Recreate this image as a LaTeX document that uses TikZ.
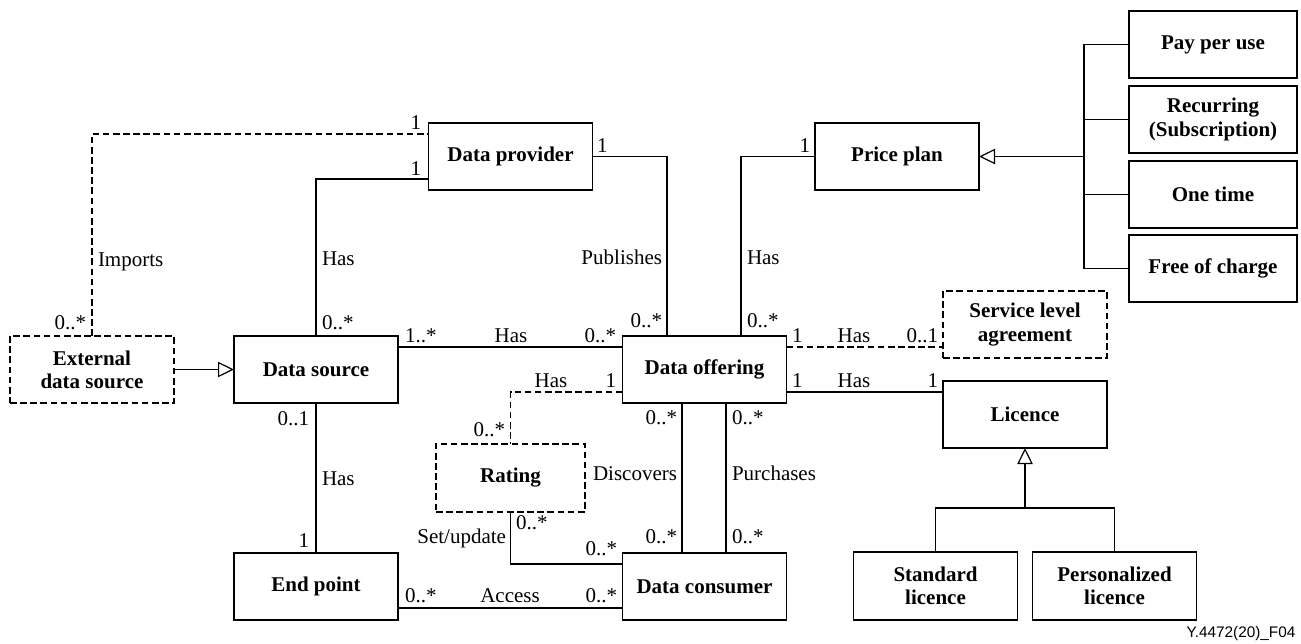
\documentclass[tikz,border=0pt]{standalone}
\usepackage{fontspec}
\setmainfont{Liberation Serif}
\newfontfamily\figsans{Liberation Sans}
\usetikzlibrary{arrows.meta}
\tikzset{
  every picture/.style={line width=0.9pt},
  box/.style={draw, rectangle, inner sep=0pt, outer sep=0pt, minimum width=123pt, minimum height=50.25pt,
     align=center, font=\fontsize{15.75}{17.5}\selectfont\bfseries},
  wbox/.style={box, minimum width=126pt},
  dbox/.style={box, dash pattern=on 5pt off 2.6pt},
  dline/.style={dash pattern=on 5pt off 2.6pt},
  gen/.style={-{Triangle[open, length=12pt, width=11.5pt]}},
  lbl/.style={inner sep=0pt, outer sep=0pt, font=\fontsize{15.75}{17.5}\selectfont},
}
\begin{document}
\begin{tikzpicture}[x=0.75pt,y=-0.75pt]
\useasboundingbox (0,0) rectangle (1301,643);

% boxes
\node[dbox] (ext) at (92,369.5) {External\\data source};
\node[box] (ds) at (316,369.5) {Data source};
\node[box] (dp) at (510.5,156.5) {Data provider};
\node[box] (doff) at (704.5,369.5) {Data offering};
\node[box] (pp) at (897,156.5) {Price plan};
\node[wbox] (pay) at (1213,44.5) {Pay per use};
\node[wbox] (rec) at (1213,119.5) {Recurring\\(Subscription)};
\node[wbox] (one) at (1213,194.5) {One time};
\node[wbox] (free) at (1213,268.5) {Free of charge};
\node[dbox] (sla) at (1025,324.5) {Service level\\agreement};
\node[box] (lic) at (1025,414.5) {Licence};
\node[box, minimum height=51pt] (std) at (935.5,586) {Standard\\licence};
\node[box, minimum height=51pt] (pers) at (1114.5,586) {Personalized\\licence};
\node[dbox, minimum width=111.75pt, minimum height=51pt] (rating) at (510.5,478) {Rating};
\node[box] (ep) at (316,586.5) {End point};
\node[box] (dc) at (704.5,586.5) {Data consumer};

% junction coordinates
\coordinate (pj) at (1084,156.5);
\coordinate (lj) at (1025,508);

% connectors
\draw[dline] (ext.north) |- (dp.west |- 0,134);
\draw (ds.north) |- (dp.west |- 0,179);
\draw (ds.east |- 0,347) -- (doff.west |- 0,347);
\draw[gen] (ext.east) -- (ds.west);
\draw (ds.south) -- (ep.north);
\draw (dp.east) -| (667,0 |- doff.north);
\draw (741,0 |- doff.north) |- (pp.west);
\draw[dline] (doff.east |- 0,347) -- (sla.west |- 0,347);
\draw (doff.east |- 0,392) -- (lic.west |- 0,392);
\draw[dline] (doff.west |- 0,392) -| (rating.north);
\draw (682,0 |- doff.south) -- (682,0 |- dc.north);
\draw (726,0 |- doff.south) -- (726,0 |- dc.north);
\draw (rating.south) |- (dc.west |- 0,564);
\draw (ep.east |- 0,608) -- (dc.west |- 0,608);

% price plan generalization
\draw[gen] (pj) -- (pp.east);
\draw (pay.west) -- (pay.west -| pj) -- (free.west -| pj) -- (free.west);
\draw (rec.west) -- (rec.west -| pj);
\draw (one.west) -- (one.west -| pj);

% licence generalization
\draw (std.north) |- (lj) -| (pers.north);
\draw[gen] (lj) -- (lic.south);

% labels
\node[lbl, anchor=base east] (l1) at (421,129) {1};
\node[lbl, anchor=base east] (l2) at (421,175) {1};
\node[lbl, anchor=base west] (l3) at (98,266) {Imports};
\node[lbl, anchor=base west] (l4) at (322,265) {Has};
\node[lbl, anchor=base east] (l5) at (86,329) {0..*};
\node[lbl, anchor=base west] (l6) at (322,329) {0..*};
\node[lbl, anchor=base west] (l7) at (405,342) {1..*};
\node[lbl, anchor=base] (l8) at (511,342) {Has};
\node[lbl, anchor=base east] (l9) at (616,342) {0..*};
\node[lbl, anchor=base west] (l10) at (597,152) {1};
\node[lbl, anchor=base east] (l11) at (662,264) {Publishes};
\node[lbl, anchor=base east] (l12) at (662,327) {0..*};
\node[lbl, anchor=base west] (l13) at (747,264) {Has};
\node[lbl, anchor=base east] (l14) at (810,152) {1};
\node[lbl, anchor=base west] (l15) at (747,327) {0..*};
\node[lbl, anchor=base west] (l16) at (792,342) {1};
\node[lbl, anchor=base] (l17) at (854,342) {Has};
\node[lbl, anchor=base east] (l18) at (938,342) {0..1};
\node[lbl, anchor=base west] (l19) at (792,387) {1};
\node[lbl, anchor=base] (l20) at (854,387) {Has};
\node[lbl, anchor=base east] (l21) at (938,387) {1};
\node[lbl, anchor=base] (l22) at (551,387) {Has};
\node[lbl, anchor=base east] (l23) at (616,387) {1};
\node[lbl, anchor=base east] (l24) at (505,436) {0..*};
\node[lbl, anchor=base east] (l25) at (677,424) {0..*};
\node[lbl, anchor=base west] (l26) at (732,424) {0..*};
\node[lbl, anchor=base east] (l27) at (677,480) {Discovers};
\node[lbl, anchor=base west] (l28) at (732,480) {Purchases};
\node[lbl, anchor=base east] (l29) at (677,543) {0..*};
\node[lbl, anchor=base west] (l30) at (732,543) {0..*};
\node[lbl, anchor=base west] (l31) at (516,529) {0..*};
\node[lbl, anchor=base east] (l32) at (506,543) {Set/update};
\node[lbl, anchor=base east] (l33) at (617,555) {0..*};
\node[lbl, anchor=base west] (l34) at (405,602) {0..*};
\node[lbl, anchor=base] (l35) at (510,602) {Access};
\node[lbl, anchor=base east] (l36) at (617,602) {0..*};
\node[lbl, anchor=base east] (l37) at (309,425) {0..1};
\node[lbl, anchor=base west] (l38) at (322,485) {Has};
\node[lbl, anchor=base east] (l39) at (309,547) {1};
\node[inner sep=0pt, anchor=base east, font=\figsans\fontsize{11.5}{13}\selectfont] (fig) at (1296,637) {Y.4472(20)\_F04};
\end{tikzpicture}
\end{document}
